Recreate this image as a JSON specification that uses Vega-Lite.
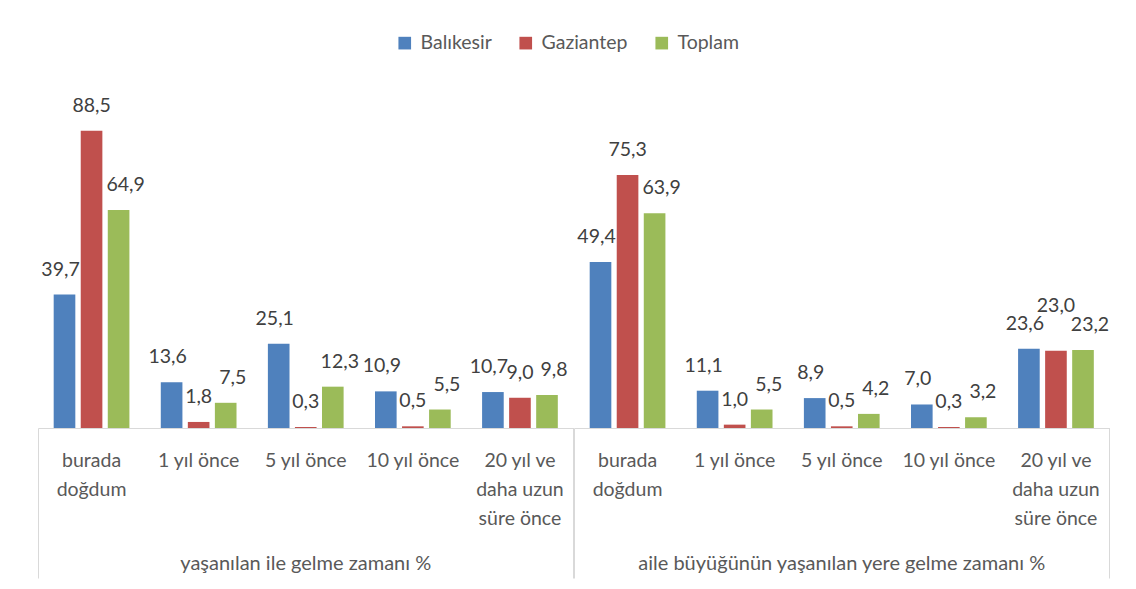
{
  "$schema": "https://vega.github.io/schema/vega-lite/v6.json",
  "padding": {"left": 37, "top": 33, "right": 28, "bottom": 3},
  "background": "white",
  "data": {"values": [
    {"grup": "yaşanılan ile gelme zamanı %", "kategori": "burada doğdum", "il": "Balıkesir", "deger": 39.7},
    {"grup": "yaşanılan ile gelme zamanı %", "kategori": "burada doğdum", "il": "Gaziantep", "deger": 88.5},
    {"grup": "yaşanılan ile gelme zamanı %", "kategori": "burada doğdum", "il": "Toplam", "deger": 64.9},
    {"grup": "yaşanılan ile gelme zamanı %", "kategori": "1 yıl önce", "il": "Balıkesir", "deger": 13.6},
    {"grup": "yaşanılan ile gelme zamanı %", "kategori": "1 yıl önce", "il": "Gaziantep", "deger": 1.8},
    {"grup": "yaşanılan ile gelme zamanı %", "kategori": "1 yıl önce", "il": "Toplam", "deger": 7.5},
    {"grup": "yaşanılan ile gelme zamanı %", "kategori": "5 yıl önce", "il": "Balıkesir", "deger": 25.1},
    {"grup": "yaşanılan ile gelme zamanı %", "kategori": "5 yıl önce", "il": "Gaziantep", "deger": 0.3},
    {"grup": "yaşanılan ile gelme zamanı %", "kategori": "5 yıl önce", "il": "Toplam", "deger": 12.3},
    {"grup": "yaşanılan ile gelme zamanı %", "kategori": "10 yıl önce", "il": "Balıkesir", "deger": 10.9},
    {"grup": "yaşanılan ile gelme zamanı %", "kategori": "10 yıl önce", "il": "Gaziantep", "deger": 0.5},
    {"grup": "yaşanılan ile gelme zamanı %", "kategori": "10 yıl önce", "il": "Toplam", "deger": 5.5},
    {"grup": "yaşanılan ile gelme zamanı %", "kategori": "20 yıl ve daha uzun süre önce", "il": "Balıkesir", "deger": 10.7},
    {"grup": "yaşanılan ile gelme zamanı %", "kategori": "20 yıl ve daha uzun süre önce", "il": "Gaziantep", "deger": 9.0},
    {"grup": "yaşanılan ile gelme zamanı %", "kategori": "20 yıl ve daha uzun süre önce", "il": "Toplam", "deger": 9.8},
    {"grup": "aile büyüğünün yaşanılan yere gelme zamanı %", "kategori": "burada doğdum", "il": "Balıkesir", "deger": 49.4},
    {"grup": "aile büyüğünün yaşanılan yere gelme zamanı %", "kategori": "burada doğdum", "il": "Gaziantep", "deger": 75.3},
    {"grup": "aile büyüğünün yaşanılan yere gelme zamanı %", "kategori": "burada doğdum", "il": "Toplam", "deger": 63.9},
    {"grup": "aile büyüğünün yaşanılan yere gelme zamanı %", "kategori": "1 yıl önce", "il": "Balıkesir", "deger": 11.1},
    {"grup": "aile büyüğünün yaşanılan yere gelme zamanı %", "kategori": "1 yıl önce", "il": "Gaziantep", "deger": 1.0},
    {"grup": "aile büyüğünün yaşanılan yere gelme zamanı %", "kategori": "1 yıl önce", "il": "Toplam", "deger": 5.5},
    {"grup": "aile büyüğünün yaşanılan yere gelme zamanı %", "kategori": "5 yıl önce", "il": "Balıkesir", "deger": 8.9},
    {"grup": "aile büyüğünün yaşanılan yere gelme zamanı %", "kategori": "5 yıl önce", "il": "Gaziantep", "deger": 0.5},
    {"grup": "aile büyüğünün yaşanılan yere gelme zamanı %", "kategori": "5 yıl önce", "il": "Toplam", "deger": 4.2},
    {"grup": "aile büyüğünün yaşanılan yere gelme zamanı %", "kategori": "10 yıl önce", "il": "Balıkesir", "deger": 7.0},
    {"grup": "aile büyüğünün yaşanılan yere gelme zamanı %", "kategori": "10 yıl önce", "il": "Gaziantep", "deger": 0.3},
    {"grup": "aile büyüğünün yaşanılan yere gelme zamanı %", "kategori": "10 yıl önce", "il": "Toplam", "deger": 3.2},
    {"grup": "aile büyüğünün yaşanılan yere gelme zamanı %", "kategori": "20 yıl ve daha uzun süre önce", "il": "Balıkesir", "deger": 23.6},
    {"grup": "aile büyüğünün yaşanılan yere gelme zamanı %", "kategori": "20 yıl ve daha uzun süre önce", "il": "Gaziantep", "deger": 23.0},
    {"grup": "aile büyüğünün yaşanılan yere gelme zamanı %", "kategori": "20 yıl ve daha uzun süre önce", "il": "Toplam", "deger": 23.2}
  ]},
  "facet": {
    "column": {
      "field": "grup", "type": "nominal",
      "sort": ["yaşanılan ile gelme zamanı %", "aile büyüğünün yaşanılan yere gelme zamanı %"],
      "title": null,
      "header": {"labelOrient": "bottom", "labelFontSize": 20, "labelColor": "#595959", "labelFont": "Lato", "labelPadding": -25}
    }
  },
  "spacing": 0,
  "spec": {
    "width": 535.5,
    "height": 336,
    "encoding": {
      "x": {
        "field": "kategori", "type": "nominal",
        "sort": ["burada doğdum", "1 yıl önce", "5 yıl önce", "10 yıl önce", "20 yıl ve daha uzun süre önce"],
        "scale": {"paddingInner": 0, "paddingOuter": 0},
        "axis": {
          "title": null,
          "domainColor": "#d9d9d9",
          "domainWidth": 1,
          "ticks": true,
          "tickSize": 150,
          "tickWidth": 1,
          "bandPosition": 1,
          "tickExtra": true,
          "tickColor": {"condition": {"test": "datum.extra || datum.value == '20 yıl ve daha uzun süre önce'", "value": "#d9d9d9"}, "value": "transparent"},
          "labelAngle": 0,
          "labelFontSize": 19.5,
          "labelColor": "#595959",
          "labelFont": "Lato",
          "labelPadding": -127,
          "labelLineHeight": 29,
          "labelBaseline": "top",
          "labelExpr": "datum.value == 'burada doğdum' ? ['burada', 'doğdum'] : datum.value == '20 yıl ve daha uzun süre önce' ? ['20 yıl ve', 'daha uzun', 'süre önce'] : datum.label"
        }
      },
      "xOffset": {"field": "il", "type": "nominal", "sort": ["Balıkesir", "Gaziantep", "Toplam"], "scale": {"paddingInner": 0.2, "paddingOuter": 0.58}},
      "y": {"field": "deger", "type": "quantitative", "scale": {"domain": [0, 100]}, "axis": null}
    },
    "layer": [
      {
        "mark": {"type": "bar"},
        "encoding": {
          "color": {
            "field": "il", "type": "nominal",
            "scale": {"domain": ["Balıkesir", "Gaziantep", "Toplam"], "range": ["#4F81BD", "#C0504D", "#9BBB59"]},
            "legend": {
              "orient": "none", "legendX": 357, "legendY": -59, "direction": "horizontal", "title": null,
              "symbolType": "square", "symbolSize": 160, "symbolStrokeWidth": 0,
              "labelFontSize": 19.5, "labelColor": "#595959", "labelFont": "Lato", "columnPadding": 24, "labelOffset": 6
            }
          }
        }
      },
      {
        "transform": [{"filter": "datum.il == 'Balıkesir'"}],
        "mark": {"type": "text", "baseline": "middle", "dy": -25, "dx": -4, "fontSize": 19.5, "font": "Lato", "color": "#404040"},
        "encoding": {"text": {"field": "deger", "type": "quantitative", "format": ".1f"}}
      },
      {
        "transform": [{"filter": "datum.il == 'Gaziantep'"}],
        "mark": {"type": "text", "baseline": "middle", "dy": {"expr": "datum.deger > 20 && datum.deger < 30 ? -45 : -25"}, "fontSize": 19.5, "font": "Lato", "color": "#404040"},
        "encoding": {"text": {"field": "deger", "type": "quantitative", "format": ".1f"}}
      },
      {
        "transform": [{"filter": "datum.il == 'Toplam'"}],
        "mark": {"type": "text", "baseline": "middle", "dy": -25, "dx": 7, "fontSize": 19.5, "font": "Lato", "color": "#404040"},
        "encoding": {"text": {"field": "deger", "type": "quantitative", "format": ".1f"}}
      }
    ]
  },
  "config": {
    "view": {"stroke": null},
    "locale": {"number": {"decimal": ",", "thousands": ".", "grouping": [3], "currency": ["", " TL"]}}
  }
}
